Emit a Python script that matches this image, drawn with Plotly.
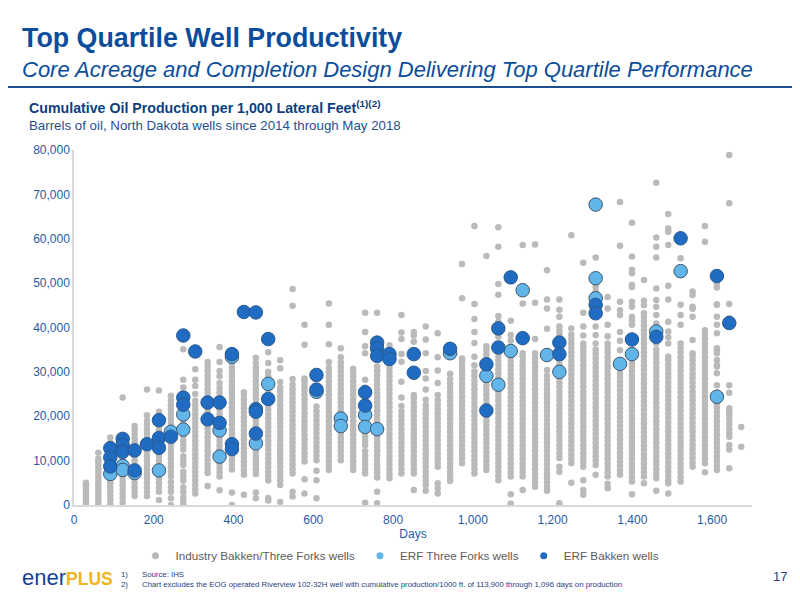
import plotly.graph_objects as go

# columns of industry wells, one per month on production (days)
days = [30, 61, 91, 122, 152, 183, 213, 243, 274, 304, 335, 365, 396, 426, 456, 487, 517, 548, 578,
        608, 639, 669, 700, 730, 760, 791, 821, 852, 882, 912, 943, 973, 1004, 1034, 1064, 1095, 1125,
        1156, 1186, 1217, 1247, 1277, 1308, 1338, 1369, 1399, 1429, 1460, 1490, 1521, 1551, 1582, 1612,
        1643, 1673]

# industry Bakken/Three Forks wells, cumulative bbl per 1,000 ft (thousands), per column
industry = [
    [0.2, 0.9, 1.6, 2.3, 3.0, 3.7, 4.4, 5.0],
    [0.2, 1.0, 1.8, 2.6, 3.4, 4.2, 5.0, 5.8, 6.6, 7.4, 8.2, 9.0, 9.8, 10.4, 11.8],
    [0.3, 1.2, 2.2, 3.1, 4.0, 4.9, 5.8, 6.7, 7.6, 8.5, 9.4, 10.3, 11.2, 12.1, 13.0, 14.0, 15.2],
    [0.5, 1.6, 2.5, 3.5, 4.4, 5.3, 6.2, 7.1, 8.0, 8.9, 9.8, 10.7, 11.6, 12.5, 13.4, 14.3, 24.2],
    [2.0, 3.0, 4.0, 5.0, 6.0, 7.0, 8.0, 9.0, 10.0, 11.0, 12.0, 13.0, 14.0, 15.0, 16.0, 17.0, 17.8],
    [2.0, 3.0, 4.0, 5.0, 6.0, 7.0, 8.0, 9.0, 10.0, 11.0, 12.0, 13.0, 14.0, 15.0, 16.0, 17.0, 18.0,
     19.0, 20.2, 26.0],
    [1.1, 3.0, 4.0, 5.0, 6.0, 7.0, 8.0, 9.0, 10.0, 11.0, 12.0, 13.0, 14.0, 15.0, 16.0, 17.0, 18.0,
     19.0, 20.0, 21.0, 25.8],
    [0.0, 1.5, 3.0, 4.0, 5.2, 6.5, 7.5, 8.5, 9.5, 10.5, 11.5, 12.5, 13.5, 14.5, 15.5, 16.5, 17.5,
     18.5, 19.5, 20.5, 21.5, 22.5, 23.5, 24.6],
    [0.0, 0.8, 1.8, 3.0, 4.0, 5.5, 6.5, 7.5, 9.0, 10.0, 11.0, 12.5, 13.5, 14.5, 15.5, 16.5, 18.0,
     19.0, 20.0, 21.0, 22.0, 23.0, 24.0, 25.0, 26.5, 28.2, 35.1],
    [2.6, 3.5, 4.5, 5.5, 6.5, 7.5, 8.5, 9.5, 10.5, 11.5, 12.5, 13.5, 14.5, 15.5, 16.5, 17.5, 18.5,
     19.5, 20.5, 21.5, 22.5, 23.5, 25.0, 26.8, 28.2, 30.6],
    [4.3, 7.2, 8.2, 9.2, 10.2, 11.2, 12.2, 13.2, 14.2, 15.2, 16.2, 17.2, 18.2, 19.2, 20.2, 21.2,
     22.2, 23.2, 24.2, 25.2, 26.2, 27.2, 28.2, 29.2, 30.2, 31.2, 32.2],
    [3.3, 6.4, 7.4, 8.4, 9.4, 10.4, 11.4, 12.4, 13.4, 14.4, 15.4, 16.4, 17.4, 18.4, 19.4, 20.4,
     21.4, 22.4, 23.4, 24.4, 25.4, 26.4, 27.5, 29.0, 30.2, 32.2, 35.6],
    [0.0, 2.8, 8.0, 9.0, 10.0, 11.0, 12.0, 13.0, 14.0, 15.0, 16.0, 17.0, 18.0, 19.0, 20.0, 21.0,
     22.0, 23.0, 24.0, 25.0, 26.0, 27.0, 28.0, 29.0, 30.0, 31.0, 32.0, 33.0],
    [2.3, 6.8, 7.8, 8.8, 9.8, 10.8, 11.8, 12.8, 13.8, 14.8, 15.8, 16.8, 17.8, 18.8, 19.8, 20.8,
     21.8, 22.8, 23.8, 24.8, 25.4],
    [1.5, 2.8, 7.0, 8.0, 9.0, 10.0, 11.0, 12.0, 13.0, 14.0, 15.0, 16.0, 17.0, 18.0, 19.0, 20.0,
     21.0, 22.0, 23.0, 24.0, 25.0, 26.0, 27.0, 28.0, 29.0, 30.0, 31.0, 32.0, 33.2],
    [1.0, 1.6, 5.5, 6.5, 7.5, 8.5, 9.5, 10.5, 11.5, 12.5, 13.5, 14.5, 15.5, 16.5, 17.5, 18.5, 19.5,
     20.5, 21.5, 22.5, 23.5, 24.5, 26.0, 27.5, 29.0, 30.0, 32.0, 34.4],
    [0.7, 4.5, 5.5, 6.5, 7.5, 8.5, 9.5, 10.5, 11.5, 12.5, 13.5, 14.5, 15.5, 16.5, 17.5, 18.5, 19.5,
     20.5, 21.5, 22.5, 23.5, 24.5, 25.5, 26.5, 27.7, 30.8, 32.6],
    [1.9, 3.0, 7.1, 8.1, 9.1, 10.1, 11.1, 12.1, 13.1, 14.1, 15.1, 16.1, 17.1, 18.1, 19.1, 20.1,
     21.1, 22.1, 23.1, 24.1, 25.1, 26.1, 27.1, 28.4, 44.9, 48.7],
    [2.6, 5.8, 9.8, 10.8, 11.8, 12.8, 13.8, 14.8, 15.8, 16.8, 17.8, 18.8, 19.8, 20.8, 21.8, 22.8,
     23.8, 24.8, 25.8, 26.8, 27.8, 28.5, 36.1, 40.6],
    [1.5, 5.6, 7.7, 10.1, 11.1, 12.1, 13.1, 14.1, 15.1, 16.1, 17.1, 18.1, 19.1, 20.1, 21.1, 22.2],
    [7.9, 8.9, 9.9, 10.9, 11.9, 12.9, 13.9, 14.9, 15.9, 16.9, 17.9, 18.9, 19.9, 20.9, 21.9, 22.9,
     23.9, 24.9, 25.9, 26.9, 27.9, 28.9, 29.9, 30.9, 32.2, 36.2, 40.6, 45.4],
    [10.1, 11.1, 12.1, 13.1, 14.1, 15.1, 16.1, 17.1, 18.1, 19.1, 20.1, 21.1, 22.1, 23.1, 24.1,
     25.1, 26.1, 27.1, 28.1, 29.1, 30.1, 31.1, 32.1, 33.3, 35.3],
    [7.9, 8.9, 9.9, 10.9, 11.9, 12.9, 13.9, 14.9, 15.9, 16.9, 17.9, 18.9, 19.9, 20.9, 21.9, 22.9,
     23.9, 24.9, 25.9, 26.9, 27.9, 28.9, 29.9, 30.7],
    [0.5, 7.1, 8.1, 9.1, 10.1, 11.1, 12.1, 13.5, 14.5, 15.5, 16.5, 17.5, 18.5, 19.5, 21.0, 23.8,
     25.0, 26.5, 28.2, 34.2, 35.8, 39.0, 43.3],
    [0.4, 3.0, 6.2, 7.2, 8.2, 9.2, 10.2, 11.2, 12.2, 13.2, 14.2, 15.2, 16.2, 17.2, 18.2, 19.2, 20.2,
     21.2, 22.2, 23.2, 24.2, 25.2, 26.2, 27.2, 28.2, 29.2, 30.2, 31.2, 43.3],
    [6.0, 7.0, 8.0, 9.0, 10.0, 11.0, 12.0, 13.0, 14.0, 15.0, 16.0, 17.0, 18.0, 19.0, 20.0, 21.0,
     22.0, 23.0, 24.0, 25.0, 26.0, 27.0, 28.0, 29.0, 30.0, 31.0, 34.5, 36.0],
    [7.1, 8.1, 9.1, 10.1, 11.1, 12.1, 13.1, 14.1, 15.1, 16.1, 17.1, 18.1, 19.1, 20.1, 21.1, 22.3,
     24.2, 27.8, 32.3, 34.0, 37.4, 38.9, 42.8],
    [3.4, 7.1, 8.1, 9.1, 10.1, 11.1, 12.1, 13.1, 14.1, 15.1, 16.1, 17.1, 18.1, 19.1, 20.1, 21.1,
     22.1, 23.1, 24.1, 24.8, 36.8, 38.2, 39.0],
    [3.2, 4.5, 5.5, 6.5, 7.5, 8.5, 9.5, 10.5, 11.5, 12.5, 13.5, 14.5, 15.5, 16.5, 17.5, 18.5, 19.5,
     20.5, 21.5, 22.5, 23.7, 26.0, 28.5, 30.2, 34.2, 37.3, 40.2],
    [2.6, 3.8, 4.9, 8.6, 9.6, 10.6, 11.6, 12.6, 13.6, 14.6, 15.6, 16.6, 17.6, 18.6, 19.6, 20.6,
     21.6, 22.6, 23.6, 24.8, 27.5, 30.3, 33.3, 38.7],
    [5.4, 6.4, 7.4, 8.4, 9.4, 10.4, 11.4, 12.4, 13.4, 14.4, 15.4, 16.4, 17.4, 18.4, 19.4, 20.4,
     21.4, 22.4, 23.4, 24.4, 25.4, 26.4, 27.4, 28.4, 29.6],
    [9.4, 10.4, 11.4, 12.4, 13.4, 14.4, 15.4, 16.4, 17.4, 18.4, 19.4, 20.4, 21.4, 22.4, 23.4, 24.4,
     25.4, 26.4, 27.4, 28.4, 29.4, 30.4, 31.4, 32.4, 33.0, 46.6, 54.3],
    [7.1, 8.1, 9.1, 10.1, 11.1, 12.1, 13.1, 14.1, 15.1, 16.1, 17.1, 18.1, 19.1, 20.1, 21.1, 22.1,
     23.1, 24.1, 25.1, 26.1, 27.1, 28.1, 29.1, 30.1, 31.5, 33.4, 36.5, 39.0, 41.9, 45.3, 62.9],
    [7.9, 8.9, 9.9, 10.9, 11.9, 12.9, 13.9, 14.9, 15.9, 16.9, 17.9, 18.9, 19.9, 20.9, 21.9, 22.9,
     23.9, 24.9, 25.9, 26.9, 27.9, 28.9, 29.9, 30.9, 31.9, 32.9, 33.9, 34.9, 35.8, 56.1],
    [5.6, 6.6, 7.6, 8.6, 9.6, 10.6, 11.6, 12.6, 13.6, 14.6, 15.6, 16.6, 17.6, 18.6, 19.6, 20.6,
     21.6, 22.6, 23.6, 24.6, 25.6, 26.6, 27.6, 28.6, 29.6, 30.6, 31.6, 32.6, 33.6, 34.6, 36.0, 37.9,
     41.3, 42.6, 47.4, 49.8, 58.2, 62.6],
    [0.3, 2.4, 6.4, 7.4, 8.4, 9.4, 10.4, 11.4, 12.4, 13.4, 14.4, 15.4, 16.4, 17.4, 18.4, 19.4, 20.4,
     21.4, 22.4, 23.4, 24.4, 25.4, 26.4, 27.4, 28.4, 29.4, 30.4, 31.4, 32.4, 33.4, 37.0, 38.3, 41.5],
    [3.4, 6.4, 7.4, 8.4, 9.4, 10.4, 11.4, 12.4, 13.4, 14.4, 15.4, 16.4, 17.4, 18.4, 19.4, 20.4, 21.4,
     22.4, 23.4, 24.4, 25.4, 26.4, 27.4, 28.4, 29.4, 30.4, 31.4, 32.4, 33.4, 34.2, 45.4, 58.6],
    [4.1, 5.1, 6.1, 7.1, 8.1, 9.1, 10.1, 11.1, 12.1, 13.1, 14.1, 15.1, 16.1, 17.1, 18.1, 19.1, 20.1,
     21.1, 22.1, 23.1, 24.1, 25.1, 26.1, 27.1, 28.1, 29.1, 30.1, 31.1, 32.1, 33.1, 34.2, 37.4, 45.6,
     58.7],
    [3.2, 4.1, 5.1, 6.1, 7.1, 8.1, 9.1, 10.1, 11.1, 12.1, 13.1, 14.1, 15.1, 16.1, 17.1, 18.1, 19.1,
     20.1, 21.1, 22.1, 23.1, 24.1, 25.1, 26.1, 27.1, 28.1, 29.1, 30.4, 39.7, 44.3, 46.3, 52.9],
    [0.4, 7.5, 8.6, 10.6, 11.6, 12.6, 13.6, 14.6, 15.6, 16.6, 17.6, 18.6, 19.6, 20.6, 21.6, 22.6,
     23.6, 24.6, 25.6, 26.6, 27.6, 28.6, 29.6, 30.6, 31.6, 32.6, 33.6, 34.6, 35.6, 36.4, 37.4, 38.4,
     39.2, 40.2, 42.4, 44.0, 46.3],
    [5.0, 9.4, 10.4, 11.4, 12.4, 13.4, 14.4, 15.4, 16.4, 17.4, 18.4, 19.4, 20.4, 21.4, 22.4, 23.4,
     24.4, 25.4, 26.4, 27.4, 28.4, 29.4, 30.4, 31.4, 32.4, 33.4, 34.4, 35.4, 36.4, 37.4, 38.4, 39.8,
     60.8],
    [2.3, 3.4, 5.6, 8.6, 9.6, 10.6, 11.6, 12.6, 13.6, 14.6, 15.6, 16.6, 17.6, 18.6, 19.6, 20.6, 21.6,
     22.6, 23.6, 24.6, 25.6, 26.6, 27.6, 28.6, 29.6, 30.6, 31.6, 32.6, 33.6, 34.6, 35.6, 36.4, 38.2,
     40.2, 43.3, 54.6],
    [6.8, 9.0, 10.0, 11.0, 12.0, 13.0, 14.0, 15.0, 16.0, 17.0, 18.0, 19.0, 20.0, 21.0, 22.0, 23.0,
     24.0, 25.0, 26.0, 27.0, 28.0, 29.0, 30.0, 31.0, 32.0, 33.0, 34.0, 35.0, 36.4, 38.3, 40.2, 48.1,
     49.2, 55.8],
    [3.8, 4.8, 6.4, 7.4, 8.4, 9.4, 10.4, 11.4, 12.4, 13.4, 14.4, 15.4, 16.4, 17.4, 18.4, 19.4, 20.4,
     21.4, 22.4, 23.4, 24.4, 25.4, 26.4, 27.4, 28.4, 29.4, 30.4, 31.4, 32.4, 33.4, 34.4, 35.4, 36.4,
     38.0, 40.6, 44.3, 46.9],
    [6.8, 7.8, 8.8, 9.8, 10.8, 11.8, 12.8, 13.8, 14.8, 15.8, 16.8, 17.8, 18.8, 19.8, 20.8, 21.8, 22.8,
     23.8, 24.8, 25.8, 26.8, 27.8, 28.8, 29.7, 34.9, 37.0, 39.0, 42.8, 43.9, 45.8, 58.4, 68.3],
    [2.4, 5.3, 6.3, 7.3, 8.3, 9.3, 10.3, 11.3, 12.3, 13.3, 14.3, 15.3, 16.3, 17.3, 18.3, 19.3, 20.3,
     21.3, 22.3, 23.3, 24.3, 25.3, 26.3, 27.3, 28.3, 29.3, 30.3, 31.3, 31.9, 40.6, 41.5, 42.4, 44.7,
     45.8, 49.1, 49.6, 52.2, 53.0, 56.0, 63.6],
    [4.9, 6.4, 7.4, 8.4, 9.4, 10.4, 11.4, 12.4, 13.4, 14.4, 15.4, 16.4, 17.4, 18.4, 19.4, 20.4, 21.4,
     22.4, 23.4, 24.4, 25.4, 26.4, 27.4, 28.4, 29.4, 30.4, 31.4, 32.4, 33.4, 34.4, 35.4, 36.4, 37.4,
     38.4, 39.4, 40.4, 41.4, 42.4, 43.2, 45.0, 46.0, 50.7],
    [3.2, 6.0, 7.0, 8.0, 9.0, 10.0, 11.0, 12.0, 13.0, 14.0, 15.0, 16.0, 17.0, 18.0, 19.0, 20.0, 21.0,
     22.0, 23.0, 24.0, 25.0, 26.0, 27.0, 28.0, 29.0, 30.0, 31.0, 32.0, 33.0, 34.0, 35.0, 36.4, 40.9,
     42.8, 44.7, 46.2, 48.8, 55.8, 58.2, 60.3, 72.6],
    [2.6, 4.9, 5.6, 6.6, 7.6, 8.6, 9.6, 10.6, 11.6, 12.6, 13.6, 14.6, 15.6, 16.6, 17.6, 18.6, 19.6,
     20.6, 21.6, 22.6, 23.6, 24.6, 25.6, 26.6, 27.6, 28.6, 29.6, 30.6, 31.6, 32.6, 33.4, 36.4, 37.8,
     39.1, 41.3, 46.3, 49.4, 58.6, 61.6, 62.3, 65.6],
    [5.3, 6.3, 7.3, 8.3, 9.3, 10.3, 11.3, 12.3, 13.3, 14.3, 15.3, 16.3, 17.3, 18.3, 19.3, 20.3, 21.3,
     22.3, 23.3, 24.3, 25.3, 26.3, 27.3, 28.3, 29.3, 30.3, 31.3, 32.3, 33.3, 34.3, 35.3, 36.4, 40.6,
     42.8, 45.1, 55.6],
    [8.6, 9.6, 10.6, 11.6, 12.6, 13.6, 14.6, 15.6, 16.6, 17.6, 18.6, 19.6, 20.6, 21.6, 22.6, 23.6,
     24.6, 25.6, 26.6, 27.6, 28.6, 29.6, 30.6, 31.6, 32.6, 33.6, 34.2, 37.2, 42.4, 44.2, 44.7, 47.3,
     48.1],
    [7.4, 9.4, 10.4, 11.4, 12.4, 13.4, 14.4, 15.4, 16.4, 17.4, 18.4, 19.4, 20.4, 21.4, 22.4, 23.4,
     24.4, 25.4, 26.4, 27.4, 28.4, 29.4, 30.4, 31.4, 32.4, 33.4, 34.4, 35.4, 36.4, 37.4, 38.4, 39.4,
     59.3, 62.9],
    [7.9, 8.9, 9.9, 10.9, 11.9, 12.9, 13.9, 14.9, 15.9, 16.9, 17.9, 18.9, 19.9, 20.9, 21.9, 22.9,
     23.7, 25.3, 27.0, 29.7, 31.2, 31.5, 32.7, 34.2, 34.9, 35.3, 38.7, 40.6, 42.4, 45.1, 45.2, 49.0,
     50.0],
    [8.3, 12.5, 13.5, 15.4, 16.2, 17.2, 18.2, 19.2, 20.2, 21.0, 21.8, 25.3, 27.0, 42.1, 45.3, 68.0,
     78.9],
    [13.1, 17.6],
]

# ERF Three Forks wells (day, thousand bbl per 1,000 ft)
tf_days = [91, 122, 122, 152, 213, 243, 274, 274, 365, 365, 396, 456, 487, 608, 669, 669, 730, 730,
           760, 943, 1034, 1064, 1095, 1125, 1186, 1217, 1308, 1308, 1308, 1369, 1399, 1460, 1521,
           1612]
tf_vals = [7.0, 8.8, 7.9, 7.2, 7.8, 16.5, 20.4, 17.0, 16.8, 10.9, 33.4, 13.9, 27.3, 25.5, 19.5, 17.8,
           20.3, 17.6, 17.1, 34.2, 29.1, 27.1, 34.7, 48.4, 33.8, 30.0, 67.7, 51.1, 46.6, 31.8, 34.0,
           39.1, 52.7, 24.4]

# ERF Bakken wells
bk_days = [91, 91, 91, 122, 122, 122, 152, 152, 183, 213, 213, 213, 243, 274, 274, 274, 304, 335, 335,
           365, 365, 396, 396, 396, 426, 456, 456, 456, 456, 487, 487, 608, 608, 730, 730, 760, 760,
           760, 791, 791, 852, 852, 943, 1034, 1034, 1064, 1064, 1095, 1125, 1217, 1217, 1308, 1308,
           1399, 1460, 1521, 1612, 1643]
bk_vals = [12.8, 10.7, 8.7, 14.9, 13.5, 12.0, 12.3, 7.8, 13.7, 19.1, 15.1, 12.9, 15.4, 38.2, 24.2,
           22.6, 34.6, 23.1, 19.3, 23.1, 18.5, 34.0, 13.7, 12.6, 43.5, 43.4, 21.6, 21.0, 16.1, 37.4,
           23.9, 29.3, 26.0, 25.4, 22.4, 36.6, 35.3, 33.6, 34.0, 32.9, 34.0, 29.8, 35.2, 31.7, 21.3,
           39.8, 35.5, 51.3, 37.6, 36.6, 34.0, 45.1, 43.2, 37.3, 37.9, 60.1, 51.6, 41.0]

y_ticks = [0, 10000, 20000, 30000, 40000, 50000, 60000, 70000, 80000]
x_ticks = [0, 200, 400, 600, 800, 1000, 1200, 1400, 1600]

GRAY = "#bababa"
LIGHT = "#62b5e8"
DARK = "#1f6cc2"
EDGE = "#3f5670"
NAVY = "#0b4d9b"
TICK_BLUE = "#1f5aa6"
FONT = "Arial, Liberation Sans, sans-serif"

ind_x, ind_y = [], []
for d, vals in zip(days, industry):
    ind_x += [d] * len(vals)
    ind_y += [v * 1000 for v in vals]

fig = go.Figure()
fig.add_trace(go.Scatter(x=ind_x, y=ind_y, mode="markers", showlegend=False, hoverinfo="skip",
                         marker=dict(color=GRAY, size=6.5, line=dict(width=0))))
fig.add_trace(go.Scatter(x=tf_days, y=[v * 1000 for v in tf_vals], mode="markers", showlegend=False,
                         marker=dict(color=LIGHT, size=13.5, line=dict(color=EDGE, width=1))))
fig.add_trace(go.Scatter(x=bk_days, y=[v * 1000 for v in bk_vals], mode="markers", showlegend=False,
                         marker=dict(color=DARK, size=13.5, line=dict(color="#2a5a8f", width=1))))

# legend entries with small symbols
for name, color in [("Industry Bakken/Three Forks wells", GRAY),
                    ("ERF Three Forks wells", LIGHT),
                    ("ERF Bakken wells", DARK)]:
    fig.add_trace(go.Scatter(x=[None], y=[None], mode="markers", name=name,
                             marker=dict(color=color, size=7)))

# the page adds an 8px body margin, so the figure is offset by 8px
fig.update_layout(
    width=800, height=600,
    paper_bgcolor="white", plot_bgcolor="white",
    font=dict(family=FONT, color=TICK_BLUE, size=12),
    margin=dict(l=66, r=56, t=142, b=103),
    showlegend=True,
    legend=dict(orientation="h", xref="container", yref="container", x=0.49, xanchor="center",
                y=0.087, yanchor="middle", font=dict(size=11.7, color="#5c5c5c"),
                itemwidth=30, tracegroupgap=0),
    xaxis=dict(range=[0, 1700], tickvals=x_ticks, tickformat=",d", showgrid=False, zeroline=False,
               showline=True, linecolor="#d9d9d9", linewidth=1.5, ticks="", automargin=False,
               ticklabelstandoff=3, tickfont=dict(size=12, color=TICK_BLUE),
               title=dict(text="Days", font=dict(size=12, color=TICK_BLUE), standoff=15)),
    yaxis=dict(range=[0, 80000], tickvals=y_ticks, tickformat=",d", showgrid=False, zeroline=False,
               showline=True, linecolor="#d9d9d9", linewidth=1.5, ticks="", automargin=False,
               tickfont=dict(size=12, color=TICK_BLUE)),
)

# header band (paper coords: plot area spans 678 x 355 px)
fig.add_shape(type="line", xref="paper", yref="paper", x0=-0.1092, x1=1.0708, y0=1.1775, y1=1.1775,
              line=dict(color="#1d4f8c", width=2))

fig.add_annotation(text="<b>Top Quartile Well Productivity</b>", xref="paper", yref="paper",
                   x=-0.080, y=1.3155, xanchor="left", yanchor="middle", showarrow=False,
                   font=dict(size=26.8, color=NAVY))
fig.add_annotation(text="<i>Core Acreage and Completion Design Delivering Top Quartile Performance</i>",
                   xref="paper", yref="paper", x=-0.080, y=1.2254, xanchor="left", yanchor="middle",
                   showarrow=False, font=dict(size=22, color=NAVY))
fig.add_annotation(text="<b>Cumulative Oil Production per 1,000 Lateral Feet<sup>(1)(2)</sup></b>",
                   xref="paper", yref="paper", x=-0.070, y=1.1211, xanchor="left",
                   yanchor="middle", showarrow=False, font=dict(size=14.2, color="#0c3f80"))
fig.add_annotation(text="Barrels of oil, North Dakota wells since 2014 through May 2018",
                   xref="paper", yref="paper", x=-0.070, y=1.0704, xanchor="left",
                   yanchor="middle", showarrow=False, font=dict(size=13.3, color="#1f4f90"))

# footer
fig.add_annotation(text="<span style='color:#1c3f94;font-size:22px'>ener</span>"
                        "<b style='color:#f0b41c;font-size:17.5px'>PLUS</b>",
                   xref="paper", yref="paper", x=-0.080, y=-0.2056, xanchor="left",
                   yanchor="middle", showarrow=False, font=dict(size=21, family=FONT))
fig.add_annotation(text="1)<br>2)", xref="paper", yref="paper", x=0.0664, y=-0.2085,
                   xanchor="left", yanchor="middle", showarrow=False, align="left",
                   font=dict(size=7.8, color="#1f3f7f"))
fig.add_annotation(text="Source: IHS<br>Chart excludes the EOG operated Riverview 102-32H well with "
                        "cumulative production/1000 ft. of 113,900 through 1,096 days on production",
                   xref="paper", yref="paper", x=0.0973, y=-0.2085, xanchor="left", yanchor="middle",
                   showarrow=False, align="left", font=dict(size=7.8, color="#1f3f7f"))
fig.add_annotation(text="17", xref="paper", yref="paper", x=1.0413, y=-0.2, xanchor="center",
                   yanchor="middle", showarrow=False, font=dict(size=13, color="#1f3f7f"))

fig.write_html("out.html")
